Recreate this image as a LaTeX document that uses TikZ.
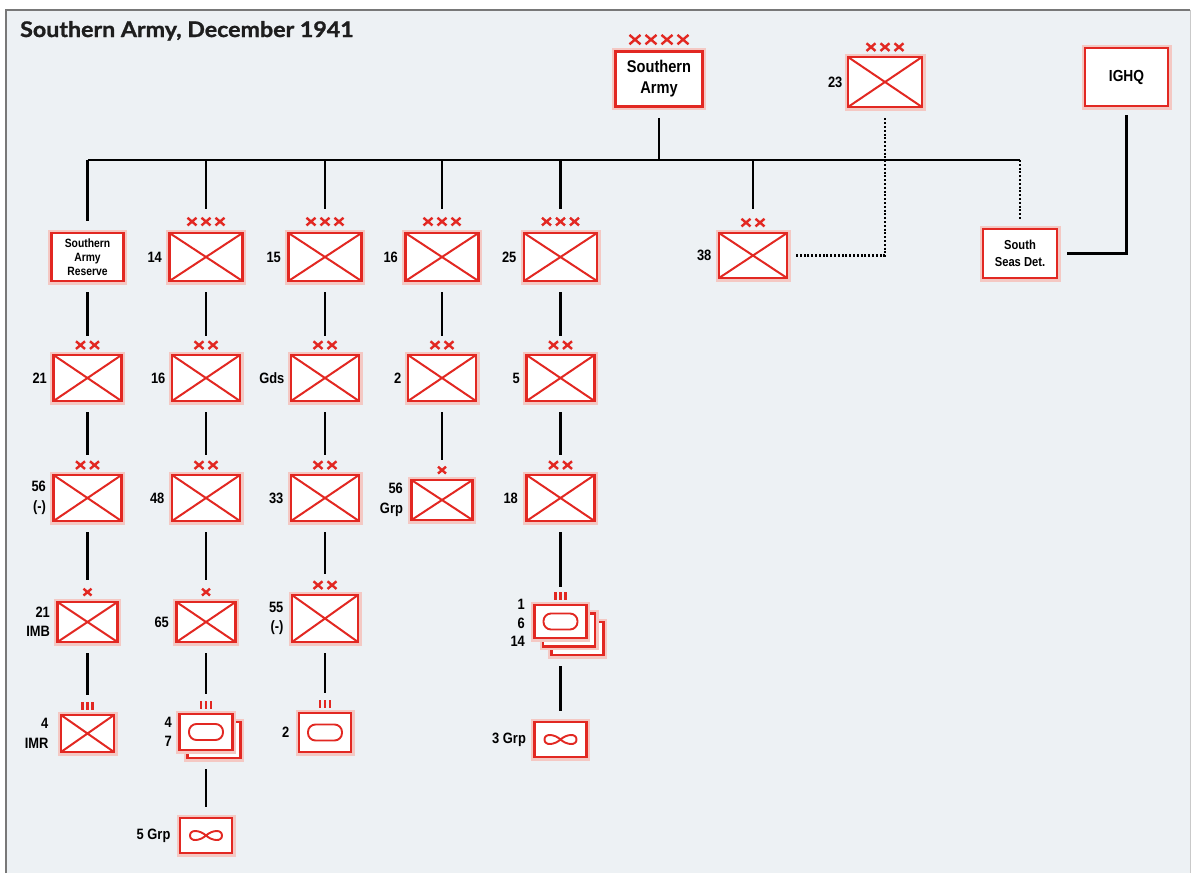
\documentclass[tikz,border=0pt]{standalone}
\usepackage{fontspec}
\setmainfont{Liberation Sans}
\newfontfamily\condf[FakeStretch=0.86]{Liberation Sans}
\newfontfamily\titlef[FakeStretch=1.08,FakeBold=1.2]{Lato}
\usetikzlibrary{calc}
\definecolor{ured}{RGB}{226,40,34}
\definecolor{glowc}{RGB}{244,200,195}
\definecolor{bgc}{RGB}{237,241,244}
\definecolor{framec}{RGB}{120,120,120}
\newcommand\lf{\condf\bfseries\fontsize{15}{19.5}\selectfont}
% echelon crosses: #1 count, #2 node, #3 pitch, #4 half size, #5 height of centre above top
\newcommand\ech[5]{%
  \foreach \i in {1,...,#1}{%
    \pgfmathsetmacro\dx{(\i-(#1+1)/2)*#3}%
    \draw[echs] ($(#2.north)+(\dx,-#5)$) ++(-#4,-0.85*#4) -- ++(2*#4,1.7*#4) ++(-2*#4,0) -- ++(2*#4,-1.7*#4);}}
\newcommand\regt[1]{%
  \foreach \dx in {-5,0,5}{\draw[echs,line width=2.2pt] ($(#1.north)+(\dx,-4)$) -- ++(0,-8);}}
\begin{document}
\begin{tikzpicture}[x=1pt,y=-1pt,
  box/.style={draw=ured, line width=2.8pt, fill=white, inner sep=0pt, align=center,
    preaction={draw=glowc, line width=7pt}},
  inf/.style={box, path picture={\draw[ured, line width=2pt]
    (path picture bounding box.north west) -- (path picture bounding box.south east)
    (path picture bounding box.south west) -- (path picture bounding box.north east);}},
  tank/.style={box, path picture={\draw[ured, line width=1.9pt, rounded corners=7.5pt]
    ($(path picture bounding box.center)+(-17,-8)$) rectangle ($(path picture bounding box.center)+(17,8)$);}},
  air/.style={box, path picture={\draw[ured, line width=1.9pt, shift={(path picture bounding box.center)}]
    (0,0) .. controls (6,-5.5) and (16,-6.5) .. (16,0) .. controls (16,6.5) and (6,5.5) .. (0,0)
    .. controls (-6,-5.5) and (-16,-6.5) .. (-16,0) .. controls (-16,6.5) and (-6,5.5) .. (0,0);}},
  sz/.style 2 args={minimum width=#1, minimum height=#2},
  lab/.style={font=\lf, align=right, anchor=east, inner sep=0pt, text=black},
  conn/.style={line width=2.3pt, black},
  dots/.style={line width=2.6pt, black, dash pattern=on 2pt off 1.8pt},
  echs/.style={draw=ured, line width=2.4pt}]
% background and frame
\fill[white] (0,0) rectangle (1195,873);
\fill[bgc] (6,10) rectangle (1190,873);
\draw[framec, line width=1.6pt] (6,873) -- (6,10) -- (1190,10);
\draw[framec!40, line width=1pt] (1190,10) -- (1190,873);
\useasboundingbox (0,0) rectangle (1195,873);

\node[anchor=base west, inner sep=0pt, text={rgb,255:red,30;green,30;blue,30},
  font=\titlef\bfseries\fontsize{21.5}{24}\selectfont] (title) at (20,37) {Southern Army, December 1941};

% top row
\node[box, sz={87}{55}, font=\condf\bfseries\fontsize{17}{21}\selectfont] (sa) at (659,79) {Southern\\Army};
\node[inf, sz={74}{50}] (c23) at (885,82) {};
\node[box, sz={83}{58}, font=\condf\bfseries\fontsize{16}{19}\selectfont] (ighq) at (1126.5,77) {IGHQ};

% row 2
\node[box, sz={72}{48}, font=\condf\bfseries\fontsize{12}{14}\selectfont] (sar) at (87.5,257) {Southern\\Army\\Reserve};
\node[inf, sz={73}{48}] (c14) at (206,257) {};
\node[inf, sz={73}{48}] (c15) at (325,257) {};
\node[inf, sz={73}{48}] (c16) at (442,257) {};
\node[inf, sz={73}{48}] (c25) at (560.5,257) {};
\node[inf, sz={68}{45}] (d38) at (753,255.5) {};
\node[box, sz={74}{49}, font=\condf\bfseries\fontsize{13}{17}\selectfont] (ssd) at (1020,253.5) {South\\Seas Det.};

% row 3
\node[inf, sz={68}{46}] (d21) at (87.5,378) {};
\node[inf, sz={68}{46}] (d16) at (206,378) {};
\node[inf, sz={68}{46}] (dgds) at (325,378) {};
\node[inf, sz={68}{46}] (d2) at (442,378) {};
\node[inf, sz={68}{46}] (d5) at (560.5,378) {};

% row 4
\node[inf, sz={68}{46}] (d56) at (87.5,498) {};
\node[inf, sz={68}{46}] (d48) at (206,498) {};
\node[inf, sz={68}{46}] (d33) at (325,498) {};
\node[inf, sz={61}{40}] (b56) at (442,500) {};
\node[inf, sz={68}{46}] (d18) at (560.5,498) {};

% row 5
\node[inf, sz={60}{40}] (b21) at (87.5,622) {};
\node[inf, sz={59}{40}] (b65) at (206,622) {};
\node[inf, sz={66}{47}] (d55) at (325,618.5) {};
\node[box, sz={52}{33}] (t1c) at (577.5,638.5) {};
\node[box, sz={52}{33}] (t1b) at (569,630) {};
\node[tank, sz={52}{33}] (t1) at (560.5,621.5) {};

% row 6
\node[inf, sz={53}{37}] (r4) at (87.5,733.5) {};
\node[box, sz={53}{36}] (t47b) at (214,740) {};
\node[tank, sz={53}{36}] (t47) at (206,732) {};
\node[tank, sz={52}{39}] (t2) at (325,732.5) {};
\node[air, sz={52}{35}] (a3) at (560.5,739.5) {};

% row 7
\node[air, sz={52}{35}] (a5) at (206,835.5) {};

% echelon marks
\ech{4}{sa}{16}{5.5}{10.5}
\ech{3}{c23}{14}{4.5}{8.5}
\foreach \n in {c14,c15,c16,c25}{\ech{3}{\n}{14}{4.5}{10}}
\ech{2}{d38}{14}{4.5}{9}
\foreach \n in {d21,d16,dgds,d2,d5,d56,d48,d33,d18,d55}{\ech{2}{\n}{14}{4.5}{8.5}}
\foreach \n in {b56,b21,b65}{\ech{1}{\n}{14}{4}{8.5}}
\foreach \n in {r4,t47,t2,t1}{\regt{\n}}

% labels
\node[lab] (l23) at ([xshift=-4pt]c23.west) {23};
\node[lab] (l14) at ([xshift=-6pt]c14.west) {14};
\node[lab] (l15) at ([xshift=-6pt]c15.west) {15};
\node[lab] (l16) at ([xshift=-6pt]c16.west) {16};
\node[lab] (l25) at ([xshift=-6pt]c25.west) {25};
\node[lab] (l38) at ([xshift=-6pt]d38.west) {38};
\node[lab] (l21) at ([xshift=-5pt]d21.west) {21};
\node[lab] (ld16) at ([xshift=-5pt]d16.west) {16};
\node[lab] (lgds) at ([xshift=-5pt]dgds.west) {Gds};
\node[lab] (ld2) at ([xshift=-5pt]d2.west) {2};
\node[lab] (ld5) at ([xshift=-5pt]d5.west) {5};
\node[lab] (ld56) at ([xshift=-6pt]d56.west) {56\\(-)};
\node[lab] (ld48) at ([xshift=-6pt]d48.west) {48};
\node[lab] (ld33) at ([xshift=-6pt]d33.west) {33};
\node[lab] (lb56) at ([xshift=-7pt]b56.west) {56\\Grp};
\node[lab] (ld18) at ([xshift=-7pt]d18.west) {18};
\node[lab] (lb21) at ([xshift=-6pt]b21.west) {21\\IMB};
\node[lab] (lb65) at ([xshift=-6pt]b65.west) {65};
\node[lab] (ld55) at ([xshift=-7pt]d55.west) {55\\(-)};
\node[lab, font=\condf\bfseries\fontsize{15}{18.5}\selectfont] (lt1) at ([xshift=-8pt,yshift=-1.5pt]t1.west) {1\\6\\14};
\node[lab] (lr4) at ([xshift=-11pt]r4.west) {4\\IMR};
\node[lab] (lt47) at ([xshift=-6pt]t47.west) {4\\7};
\node[lab] (lt2) at ([xshift=-8pt]t2.west) {2};
\node[lab] (la3) at ([xshift=-7pt]a3.west) {3 Grp};
\node[lab] (la5) at ([xshift=-8pt]a5.west) {5 Grp};

% connectors
\coordinate (busL) at (87.5,160);
\coordinate (busR) at (1020,160);
\draw[conn] ([yshift=-10pt]sa.south) -- (sa.south |- busL);
\draw[conn] (busL) -- (busR);
\foreach \n/\g in {sar/11, c14/23, c15/23, c16/23, c25/23, d38/23}
  \draw[conn] (\n.north |- busL) -- ([yshift=\g pt]\n.north);
\draw[dots] (busR) -- ([yshift=9pt]ssd.north);
\draw[dots] ([yshift=-10pt]c23.south) |- ([xshift=6pt]d38.east);
\draw[conn] ([yshift=-8pt]ighq.south) |- ([xshift=9pt]ssd.east);
\foreach \a/\b/\g in {sar/d21/18, d21/d56/19, d56/b21/21, b21/r4/19,
  c14/d16/18, d16/d48/19, d48/b65/21, b65/t47/19,
  c15/dgds/18, dgds/d33/19, d33/d55/20, d55/t2/19,
  c16/d2/18, d2/b56/19,
  c25/d5/18, d5/d18/19, d18/t1/17}
  \draw[conn] ([yshift=-10pt]\a.south) -- ([yshift=\g pt]\b.north);
\coordinate (t47end) at (t47.south |- t47b.south);
\coordinate (t1end) at (t1.south |- t1c.south);
\draw[conn] ([yshift=-10pt]t47end) -- ([yshift=10pt]a5.north);
\draw[conn] ([yshift=-10pt]t1end) -- ([yshift=10pt]a3.north);
\end{tikzpicture}
\end{document}
